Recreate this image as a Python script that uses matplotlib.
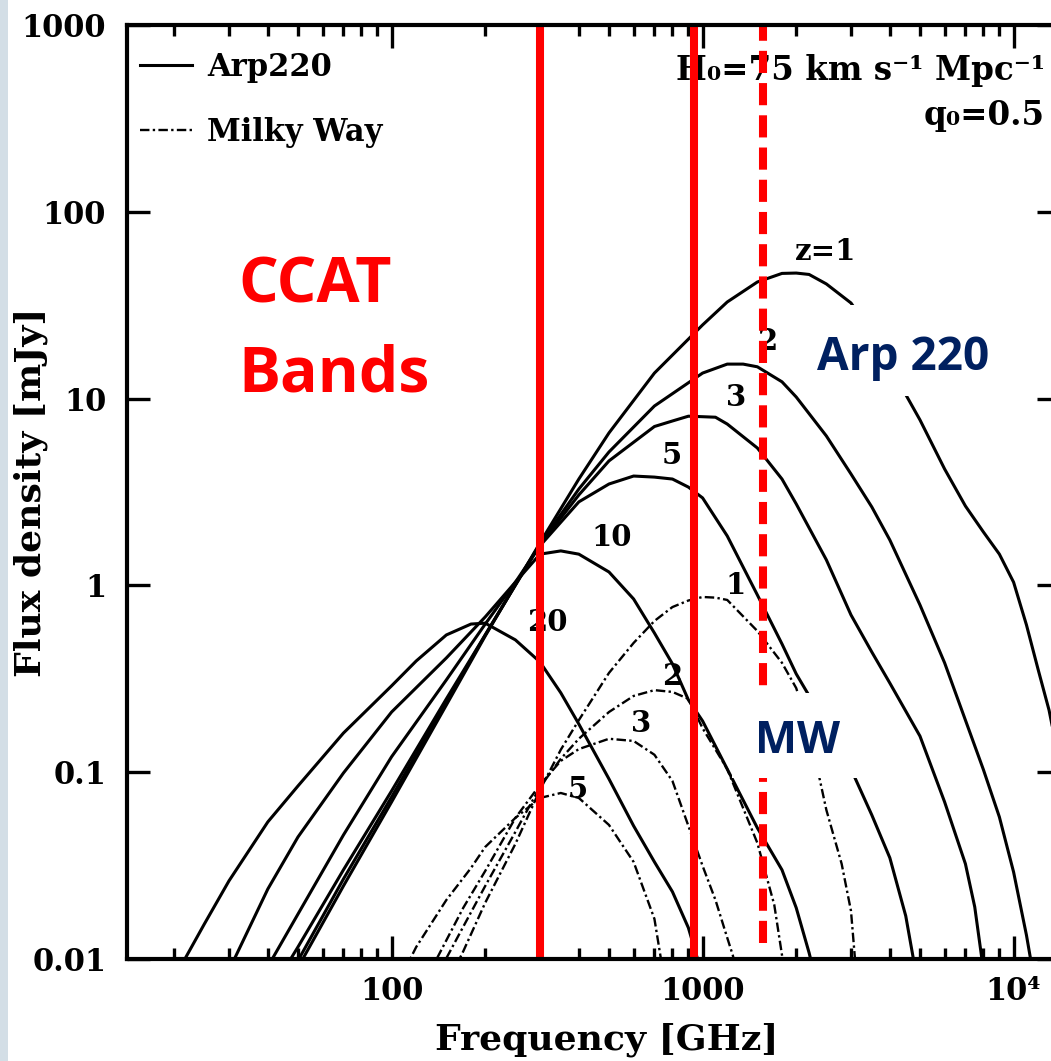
import matplotlib
matplotlib.use("Agg")
import matplotlib.pyplot as plt
from matplotlib.patches import Rectangle
from matplotlib.lines import Line2D
from matplotlib.ticker import FixedLocator, FixedFormatter, LogLocator, NullLocator, NullFormatter

plt.rcParams['font.family'] = ['DejaVu Serif']
plt.rcParams['font.weight'] = 'bold'

# ---------------- Arp220 SED redshifted (observed frequency GHz, flux density mJy)
arp_z1_freq = [50, 70, 100, 150, 200, 300, 400, 500, 700, 1000, 1200, 1500, 1800, 2000,
               2200, 2500, 3000, 3500, 4000, 5000, 6000, 7000, 8000, 9000, 10000, 11000,
               12000, 13000, 14000, 16000]
arp_z1_flux = [0.009, 0.0246, 0.0693, 0.229, 0.536, 1.69, 3.71, 6.55, 13.7, 24.8, 32.9, 42.1,
               46.8, 47.0, 46.2, 41.1, 32.5, 22.5, 14.9, 7.69, 4.20, 2.66, 1.93, 1.47, 1.04,
               0.614, 0.353, 0.215, 0.116, 0.04]

arp_z2_freq = [50, 70, 100, 150, 200, 300, 400, 500, 700, 1000, 1200, 1350, 1500, 1800, 2000,
               2500, 3000, 3500, 4000, 5000, 6000, 7000, 8000, 9000, 10000, 11000, 11400]
arp_z2_flux = [0.0098, 0.0268, 0.0737, 0.238, 0.543, 1.67, 3.28, 5.18, 9.13, 13.7, 15.3, 15.3,
               14.8, 12.3, 10.2, 6.31, 3.95, 2.63, 1.75, 0.786, 0.385, 0.190, 0.103, 0.0576,
               0.0292, 0.0134, 0.0095]

arp_z3_freq = [45, 50, 70, 100, 150, 200, 300, 400, 500, 700, 800, 900, 1000, 1100, 1200,
               1500, 1800, 2000, 2500, 3000, 3500, 4000, 5000, 6000, 7000, 7500, 8000]
arp_z3_flux = [0.0087, 0.0116, 0.0300, 0.0794, 0.247, 0.543, 1.65, 3.05, 4.64, 7.09, 7.59,
               8.05, 8.0, 7.95, 7.31, 5.44, 3.71, 2.73, 1.37, 0.695, 0.440, 0.300, 0.156,
               0.0693, 0.0323, 0.0190, 0.0087]

arp_z5_freq = [40, 50, 70, 100, 150, 200, 250, 300, 400, 500, 600, 700, 800, 900, 1000, 1200,
               1500, 1800, 2000, 2500, 3000, 3500, 4000, 4500, 4800]
arp_z5_flux = [0.0091, 0.0174, 0.0461, 0.121, 0.312, 0.621, 1.04, 1.63, 2.80, 3.49, 3.85, 3.80,
               3.71, 3.36, 2.94, 1.84, 0.889, 0.486, 0.336, 0.179, 0.104, 0.059, 0.0348,
               0.0170, 0.0093]

arp_z10_freq = [30, 40, 50, 70, 100, 150, 200, 250, 300, 350, 400, 500, 600, 700, 800, 900,
                1000, 1200, 1500, 1800, 2000, 2200, 2300]
arp_z10_flux = [0.0087, 0.0237, 0.045, 0.099, 0.210, 0.409, 0.678, 1.04, 1.47, 1.53, 1.47,
                1.18, 0.846, 0.556, 0.380, 0.244, 0.188, 0.104, 0.0503, 0.0300, 0.0188,
                0.0108, 0.008]

arp_z20_freq = [20, 25, 30, 40, 50, 70, 100, 120, 150, 180, 200, 250, 300, 350, 400, 500,
                600, 700, 800, 900, 1000]
arp_z20_flux = [0.0079, 0.0154, 0.0262, 0.0542, 0.0844, 0.162, 0.290, 0.394, 0.543, 0.621,
                0.628, 0.511, 0.389, 0.266, 0.181, 0.092, 0.0516, 0.0331, 0.0229, 0.0147,
                0.0081]

# ---------------- Milky Way SED redshifted
mw_z1_freq = [150, 170, 200, 250, 300, 350, 400, 500, 600, 700, 800, 900, 1000, 1100, 1200,
              1500, 1800, 2000, 2200, 2500, 2800, 3000, 3100]
mw_z1_flux = [0.0072, 0.0110, 0.0200, 0.0413, 0.0804, 0.132, 0.190, 0.340, 0.492, 0.645,
              0.766, 0.830, 0.867, 0.860, 0.836, 0.570, 0.385, 0.282, 0.168, 0.0628, 0.0323,
              0.0181, 0.0094]

mw_z2_freq = [150, 170, 200, 250, 300, 350, 400, 500, 600, 700, 800, 900, 1000, 1200, 1500,
              1700, 1800, 1850]
mw_z2_flux = [0.0101, 0.0149, 0.0246, 0.0479, 0.0834, 0.118, 0.151, 0.210, 0.256, 0.275,
              0.269, 0.247, 0.172, 0.104, 0.0418, 0.0195, 0.0105, 0.0076]

mw_z3_freq = [140, 150, 170, 200, 250, 300, 350, 400, 500, 600, 700, 800, 900, 1000, 1100,
              1200, 1250, 1300]
mw_z3_flux = [0.0101, 0.0126, 0.0188, 0.0296, 0.0569, 0.0855, 0.115, 0.133, 0.151, 0.147,
              0.124, 0.0897, 0.0516, 0.0315, 0.0207, 0.0130, 0.0105, 0.0081]

mw_z5_freq = [110, 120, 150, 180, 200, 250, 300, 350, 400, 500, 600, 700, 750]
mw_z5_flux = [0.0087, 0.0116, 0.0207, 0.0307, 0.0398, 0.0569, 0.0728, 0.0774, 0.0728, 0.0522,
              0.0331, 0.0164, 0.0081]

# CCAT band frequencies (GHz)
ccat_solid_bands = [300, 940]
ccat_dashed_bands = [1560]

# axis ticks
x_ticks = [100, 1000, 10000]
x_tick_labels = ["100", "1000", "10\u2074"]
y_ticks = [0.01, 0.1, 1, 10, 100, 1000]
y_tick_labels = ["0.01", "0.1", "1", "10", "100", "1000"]

arp_curves = [(arp_z1_freq, arp_z1_flux), (arp_z2_freq, arp_z2_flux),
              (arp_z3_freq, arp_z3_flux), (arp_z5_freq, arp_z5_flux),
              (arp_z10_freq, arp_z10_flux), (arp_z20_freq, arp_z20_flux)]
mw_curves = [(mw_z1_freq, mw_z1_flux), (mw_z2_freq, mw_z2_flux),
             (mw_z3_freq, mw_z3_flux), (mw_z5_freq, mw_z5_flux)]

# redshift labels placed next to the curves (axes fraction)
arp_labels = [("z=1", 0.749, 0.758), ("2", 0.686, 0.661), ("3", 0.653, 0.601),
              ("5", 0.584, 0.539), ("10", 0.520, 0.451), ("20", 0.451, 0.360)]
mw_labels = [("1", 0.652, 0.400), ("2", 0.584, 0.302), ("3", 0.551, 0.252),
             ("5", 0.483, 0.181)]

fig = plt.figure(figsize=(10.51, 10.61), dpi=100)
fig.patches.append(Rectangle((0, 0), 8 / 1051, 1, transform=fig.transFigure,
                             facecolor='#d3dee6', edgecolor='none', zorder=0))

ax = fig.add_axes([0.12084, 0.09613, 0.88773, 0.88030])
ax.set_xscale('log')
ax.set_yscale('log')
ax.set_xlim(14.1, 14100)
ax.set_ylim(0.01, 1000)

arp_style = dict(color='black', lw=2.2, solid_joinstyle='round')
mw_style = dict(color='black', lw=1.7, linestyle=(0, (4, 1.4, 1, 1.4)))

for f, s in arp_curves:
    ax.plot(f, s, zorder=3, **arp_style)
for f, s in mw_curves:
    ax.plot(f, s, zorder=3, **mw_style)

for txt, x, y in arp_labels + mw_labels:
    ax.text(x, y, txt, transform=ax.transAxes, ha='center', va='center',
            fontsize=21, fontweight='bold', zorder=4)

# CCAT bands
for b in ccat_solid_bands:
    ax.axvline(b, ymin=0.005, ymax=1.0, color='#ff0000', lw=5.8, zorder=6)
for b in ccat_dashed_bands:
    ax.axvline(b, ymin=0.017, ymax=1.0, color='#ff0000', lw=5.8,
               linestyle=(0, (2.75, 1.25)), zorder=6)

# white panels behind the annotations
ax.add_patch(Rectangle((0.730, 0.603), 0.206, 0.097, transform=ax.transAxes,
                       facecolor='white', edgecolor='none', zorder=7))
ax.add_patch(Rectangle((0.648, 0.194), 0.138, 0.091, transform=ax.transAxes,
                       facecolor='white', edgecolor='none', zorder=7))

ax.text(0.119, 0.703, "CCAT", transform=ax.transAxes, ha='left', va='baseline',
        fontsize=45, fontweight='bold', family='Open Sans', color='#ff0000', zorder=8)
ax.text(0.119, 0.608, "Bands", transform=ax.transAxes, ha='left', va='baseline',
        fontsize=45, fontweight='bold', family='Open Sans', color='#ff0000', zorder=8)
ax.text(0.832, 0.631, "Arp 220", transform=ax.transAxes, ha='center', va='baseline',
        fontsize=33, fontweight='bold', family='Open Sans', color='#002060', zorder=8)
ax.text(0.719, 0.2206, "MW", transform=ax.transAxes, ha='center', va='baseline',
        fontsize=32, fontweight='bold', family='Open Sans', color='#002060', zorder=8)

# cosmology
ax.text(0.984, 0.941, "H\u2080=75 km s\u207b\u00b9 Mpc\u207b\u00b9", transform=ax.transAxes,
        ha='right', va='baseline', fontsize=23.5, fontweight='bold', zorder=5)
ax.text(0.984, 0.893, "q\u2080=0.5", transform=ax.transAxes,
        ha='right', va='baseline', fontsize=23.5, fontweight='bold', zorder=5)

# legend
handles = [Line2D([], [], **arp_style), Line2D([], [], **mw_style)]
ax.legend(handles, ["Arp220", "Milky Way"], loc='upper left', bbox_to_anchor=(0.014, 0.971),
          frameon=False, fontsize=22, handlelength=1.7, handletextpad=0.5,
          labelspacing=1.1, borderpad=0, borderaxespad=0)

# ticks
ax.xaxis.set_major_locator(FixedLocator(x_ticks))
ax.xaxis.set_major_formatter(FixedFormatter(x_tick_labels))
ax.xaxis.set_minor_locator(LogLocator(base=10, subs=range(2, 10), numticks=30))
ax.xaxis.set_minor_formatter(NullFormatter())
ax.yaxis.set_major_locator(FixedLocator(y_ticks))
ax.yaxis.set_major_formatter(FixedFormatter(y_tick_labels))
ax.yaxis.set_minor_locator(NullLocator())
ax.tick_params(which='both', direction='in', top=True, right=True, width=2.4)
ax.tick_params(which='major', length=16.5, labelsize=22)
ax.tick_params(which='minor', length=8)
ax.tick_params(axis='x', which='major', pad=12)
ax.tick_params(axis='y', which='major', pad=15)
for t in ax.get_xticklabels() + ax.get_yticklabels():
    t.set_fontweight('bold')
for sp in ax.spines.values():
    sp.set_linewidth(3)
    sp.set_zorder(9)

ax.set_xlabel("Frequency [GHz]", fontsize=26, fontweight='bold')
ax.set_ylabel("Flux density [mJy]", fontsize=26, fontweight='bold')
ax.xaxis.set_label_coords(0.514, -0.068)
ax.yaxis.set_label_coords(-0.085, 0.5)

fig.savefig("out.png", dpi=100)
